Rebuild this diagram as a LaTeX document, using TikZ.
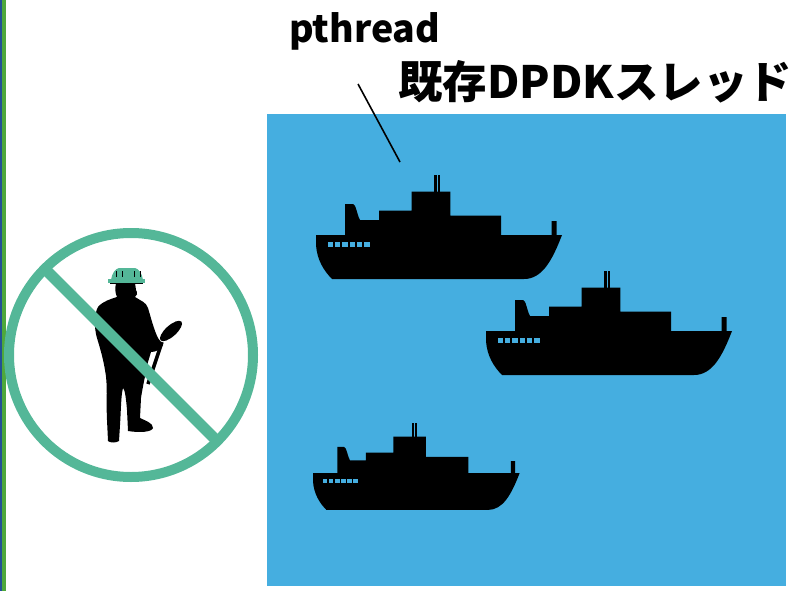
\documentclass[tikz,border=0pt]{standalone}
\usepackage{fontspec}
\newfontfamily\jpfont{Noto Sans CJK JP}
\definecolor{seablue}{RGB}{69,174,224}
\definecolor{signgreen}{RGB}{84,183,152}
\definecolor{stripgreen}{RGB}{78,168,60}
\definecolor{stripblue}{RGB}{35,80,150}
\begin{document}
\begin{tikzpicture}[x=1pt, y=-1pt,
    porthole/.style={fill=seablue},
    label/.style={anchor=base west, inner sep=0pt},
    ship/.pic={
        % hull with deck houses and stern post
        \fill (0,0) -- (0,10) .. controls (1,25) and (8,36) .. (16,44) -- (208,44)
            .. controls (226,44) and (236,26) .. (246,0) -- (240.7,0) -- (240.7,-14)
            -- (235.7,-14) -- (235.7,0) -- (185,0) -- (185,-19.3) -- (134.3,-19.3)
            -- (134.3,-43.3) -- (95.7,-43.3) -- (95.7,-24.3) -- (63,-24.3) -- (63,-15)
            -- (44,-15) .. controls (41,-20) and (40,-31) .. (37,-31) -- (29,-31)
            -- (29,0) -- cycle;
        \fill (118.3,-60) rectangle (120.7,-43);
        \fill (122,-60) rectangle (124.3,-43);
        \foreach \i in {0,...,5}
            \fill[porthole] (11.7+7.3*\i,6.7) rectangle ++(5.3,5.5);
    }]
    \useasboundingbox (0,0) rectangle (795,591);

    \fill[stripblue] (0,0) rectangle (2,591);
    \fill[stripgreen] (2,0) rectangle (5.5,591);

    \fill[seablue] (267,114) rectangle (786,586);
    \pic at (316,235) {ship};
    \pic at (486,331) {ship};
    \pic[scale=0.84] at (313,473) {ship};

    \node[label, font=\jpfont\bfseries\fontsize{37.5}{37.5}\selectfont] (pthreadlbl) at (289,43) {pthread};
    \node[label, font=\jpfont\bfseries\fontsize{44.5}{44.5}\selectfont] (dpdklbl) at (398,99) {既存DPDKスレッド};
    \coordinate (leadtop) at (358,84);
    \coordinate (leadend) at (400,162);
    \draw[line width=1.6] (leadtop) -- (leadend);

    % worker
    \fill (116,283) -- (135,283) -- (136,290) .. controls (138,293) and (137,296) .. (135,297)
        .. controls (141,301) and (146,302) .. (148,308)
        .. controls (151,318) and (154,330) .. (158,338) -- (163,345)
        .. controls (161,350) and (155,352) .. (151,352) -- (148,362)
        .. controls (146,372) and (143,385) .. (141,398) -- (140,418)
        .. controls (146,421) and (153,423) .. (153,428)
        .. controls (152,432) and (140,433) .. (128,431)
        -- (127,410) .. controls (126,398) and (125,390) .. (123,388)
        .. controls (121,395) and (121,410) .. (120,425)
        -- (119,441) .. controls (116,443) and (110,443) .. (108,441)
        -- (107,420) .. controls (106,400) and (108,385) .. (105,370)
        .. controls (103,358) and (100,348) .. (97,338)
        .. controls (94,328) and (94,314) .. (98,307)
        .. controls (103,301) and (111,299) .. (117,297)
        .. controls (115,293) and (115,288) .. (116,283) -- cycle;
    \draw[line width=3.5] (162,342) -- (148,384);
    \fill[rotate around={42:(171,331)}] (171,331) ellipse [x radius=14, y radius=5.5];
    % helmet
    \fill[signgreen] (111,280) .. controls (112,273) and (115,269) .. (119,268) -- (135,268)
        .. controls (139,269) and (142,273) .. (143,280) -- cycle;
    \fill[signgreen] (108,279) rectangle (145,282.5);
    \draw[line width=1] (110,283.5) -- (143,283.5);
    \foreach \x in {116,122,134,140}
        \draw[line width=1] (\x,271) -- (\x,277);

    % no-entry sign
    \coordinate (signc) at (131,355);
    \draw[signgreen, line width=10] (signc) circle [radius=122];
    \draw[signgreen, line width=11] ([shift={(-86,-86)}]signc) -- ([shift={(86,86)}]signc);
\end{tikzpicture}
\end{document}
